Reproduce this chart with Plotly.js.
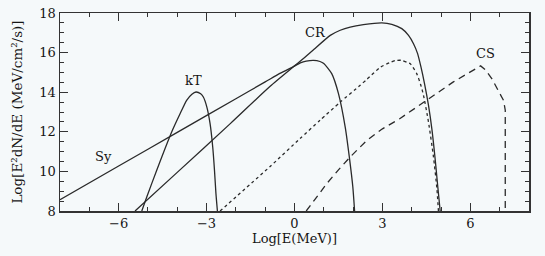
<!DOCTYPE html>
<html>
<head>
<meta charset="utf-8">
<script src="https://cdn.plot.ly/plotly-3.0.1.min.js"></script>
<style>
html,body{margin:0;padding:0;background:#f5f9fa;}
#chart{width:545px;height:256px;}
</style>
</head>
<body>
<div id="chart"></div>
<script>
// Synchrotron (Sy)
const syX = [-8, -6, -4, -2, -1, -0.5, 0, 0.2, 0.4, 0.65, 0.87, 1.0, 1.27, 1.5, 1.73, 1.87, 1.99, 2.05];
const syY = [8.57, 10.27, 11.97, 13.67, 14.52, 14.95, 15.32, 15.48, 15.57, 15.61, 15.55, 15.45, 14.94, 13.93, 12.24, 10.73, 9.21, 8.0];
// Thermal (kT)
const ktX = [-5.21, -5.04, -4.70, -4.19, -3.90, -3.68, -3.50, -3.36, -3.20, -3.11, -2.99, -2.88, -2.79, -2.73, -2.68, -2.63];
const ktY = [8.0, 8.71, 10.06, 11.99, 12.92, 13.59, 13.9, 14.01, 13.92, 13.76, 13.25, 12.41, 11.23, 10.06, 8.88, 8.0];
// Curvature radiation (CR)
const crX = [-5.44, -4, -2.2, -0.83, 0.1, 0.6, 1.22, 1.56, 1.90, 2.35, 2.98, 3.32, 3.66, 3.89, 4.06, 4.20, 4.31, 4.44, 4.57, 4.69, 4.80, 4.89, 4.97];
const crY = [8.0, 9.95, 12.4, 14.3, 15.45, 16.08, 16.87, 17.13, 17.29, 17.41, 17.50, 17.43, 17.21, 16.87, 16.45, 15.95, 15.3, 14.4, 13.35, 12.1, 10.6, 9.2, 8.0];
// Dotted component
const dotX = [-2.54, -0.83, 0.19, 0.87, 1.56, 2.24, 2.47, 2.92, 3.26, 3.45, 3.65, 3.85, 3.95, 4.17, 4.30, 4.40, 4.57, 4.74, 4.86, 4.91];
const dotY = [8.0, 10.25, 11.66, 12.58, 13.5, 14.35, 14.65, 15.25, 15.5, 15.6, 15.61, 15.5, 15.44, 14.94, 14.4, 13.85, 12.5, 10.75, 9.1, 8.0];
// Compton scattering (CS)
const csX = [0.40, 0.75, 1.10, 1.50, 1.90, 2.47, 3.00, 3.60, 4.52, 5.42, 6.35, 6.50, 6.73, 6.96, 7.13, 7.19, 7.19];
const csY = [8.0, 8.72, 9.38, 10.08, 10.73, 11.57, 12.15, 12.67, 13.6, 14.52, 15.33, 15.15, 14.69, 14.10, 13.59, 13.09, 8.0];

const xTickVals = [-6, -3, 0, 3, 6];
const xTickText = ['\u22126', '\u22123', '0', '3', '6'];
const yTickVals = [8, 10, 12, 14, 16, 18];

const lineCol = '#2a2a2a';
const traces = [
  {x: syX, y: syY, mode: 'lines', line: {color: lineCol, width: 1.3, shape: 'spline', smoothing: 0.6}},
  {x: ktX, y: ktY, mode: 'lines', line: {color: lineCol, width: 1.3, shape: 'spline', smoothing: 0.6}},
  {x: crX, y: crY, mode: 'lines', line: {color: lineCol, width: 1.3, shape: 'spline', smoothing: 0.6}},
  {x: dotX, y: dotY, mode: 'lines', line: {color: lineCol, width: 1.3, dash: 'dot', shape: 'spline', smoothing: 0.6}},
  {x: csX, y: csY, mode: 'lines', line: {color: lineCol, width: 1.3, dash: '7px,5px'}}
];

const fam = 'DejaVu Serif, Liberation Serif, serif';
const txtCol = '#151515';
const layout = {
  width: 545, height: 256,
  margin: {l: 60, r: 16, t: 13, b: 45},
  paper_bgcolor: '#f5f9fa', plot_bgcolor: '#f5f9fa',
  showlegend: false,
  font: {family: fam, size: 13, color: txtCol},
  xaxis: {
    range: [-8, 8], tickvals: xTickVals, ticktext: xTickText,
    ticks: 'inside', ticklen: 8, tickwidth: 1.2, tickcolor: '#333',
    tickfont: {family: fam, size: 13, color: txtCol},
    minor: {dtick: 1, ticks: 'inside', ticklen: 4, tickwidth: 1, tickcolor: '#333'},
    showline: true, linecolor: '#333', linewidth: 1.5, mirror: 'allticks',
    showgrid: false, zeroline: false,
    title: {text: 'Log[E(MeV)]', font: {family: fam, size: 13, color: txtCol}, standoff: 4}
  },
  yaxis: {
    range: [8, 18], tickvals: yTickVals,
    ticks: 'inside', ticklen: 8, tickwidth: 1.2, tickcolor: '#333',
    tickfont: {family: fam, size: 13, color: txtCol},
    minor: {dtick: 0.5, ticks: 'inside', ticklen: 4, tickwidth: 1, tickcolor: '#333'},
    showline: true, linecolor: '#333', linewidth: 1.5, mirror: 'allticks',
    showgrid: false, zeroline: false,
    title: {text: 'Log[E\u00b2dN/dE (MeV/cm\u00b2/s)]', font: {family: fam, size: 13.5, color: txtCol}, standoff: 13}
  },
  annotations: [
    {x: -6.5, y: 10.75, text: 'Sy', showarrow: false, font: {family: fam, size: 13, color: txtCol}},
    {x: -3.45, y: 14.6, text: 'kT', showarrow: false, font: {family: fam, size: 13, color: txtCol}},
    {x: 0.7, y: 17.0, text: 'CR', showarrow: false, font: {family: fam, size: 13, color: txtCol}},
    {x: 6.5, y: 15.98, text: 'CS', showarrow: false, font: {family: fam, size: 13, color: txtCol}}
  ]
};

Plotly.newPlot('chart', traces, layout, {displayModeBar: false, staticPlot: true});
</script>
</body>
</html>
